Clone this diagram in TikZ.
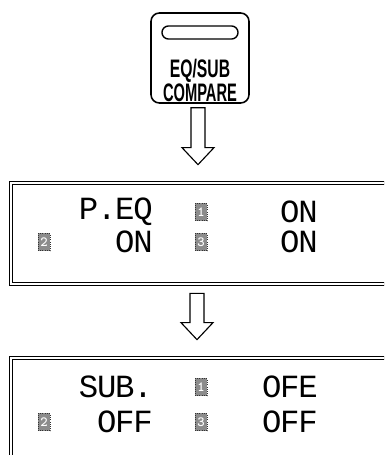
\documentclass[tikz,border=0pt]{standalone}
\usepackage{fontspec}
\setmainfont{Liberation Sans}
\newfontfamily\lcdfont[LetterSpace=-4]{Liberation Mono}
\usetikzlibrary{positioning,calc}
\tikzset{
  keycap/.style={draw, line width=1.1pt, rounded corners=6pt, minimum width=2.45cm, minimum height=2.25cm},
  slot/.style={draw, line width=1pt, rounded corners=0.16cm, minimum width=1.9cm, minimum height=0.325cm, inner sep=0pt},
  keytxt/.style={font=\bfseries\fontsize{18}{14}\selectfont, inner sep=0pt, align=center},
  panel/.style={draw, double, line width=0.5pt, double distance=1.3pt, minimum width=9.475cm},
  lcd/.style={font=\lcdfont\fontsize{23}{24}\selectfont, anchor=east, inner sep=0pt},
  chn/.style={draw=black!80, densely dotted, line width=0.6pt, fill=black!45, text=white, minimum width=0.3cm, minimum height=0.43cm, inner sep=0pt, font=\ttfamily\bfseries\fontsize{10}{10}\selectfont},
  hollow/.style={draw, line width=0.8pt, line join=miter, fill=white}}

\begin{document}
\begin{tikzpicture}[x=0.025cm, y=-0.025cm]
\useasboundingbox (0,0) rectangle (384,455);
\clip (0,0) rectangle (384,455);
% key
\node[keycap] (key) at (200,58) {};
\node[slot] (slt) at (200,32.5) {};
\node[keytxt] (klbl) at (200,80.5) {\scalebox{0.62}[1]{EQ/SUB}\\\scalebox{0.58}[1]{COMPARE}};
% panels
\node[panel, minimum height=2.525cm] (p1) at (200.5,233.5) {};
\node[panel, minimum height=2.8cm] (p2) at (200.5,414) {};
% arrows
\coordinate (a1t) at ($(key.south)+(-2,4)$);
\coordinate (a1b) at ($(p1.north)+(-2.5,-18)$);
\coordinate (a2t) at ($(p1.south)+(-3.5,9)$);
\coordinate (a2b) at ($(p2.north)+(-3.5,-18)$);
\foreach \t/\b in {a1t/a1b, a2t/a2b}
  \draw[hollow] ($(\t)+(-7,0)$) -- ($(\t)+(7,0)$) -- ($(\b)+(7,-17)$) -- ($(\b)+(16,-17)$)
    -- (\b) -- ($(\b)+(-16,-17)$) -- ($(\b)+(-7,-17)$) -- cycle;
% display 1
\node[lcd] (peq) at (153,212) {P.EQ};
\node[chn] (c1a) at (201,212) {1};
\node[lcd] (on1) at (318,212) {ON};
\node[chn] (c2a) at (44,242) {2};
\node[lcd] (on2) at (153,242) {ON};
\node[chn] (c3a) at (201,242) {3};
\node[lcd] (on3) at (318,242) {ON};
% display 2
\node[lcd] (sub) at (153,387) {SUB.};
\node[chn] (c1b) at (201,387) {1};
\node[lcd] (ofe) at (318,387) {OFE};
\node[chn] (c2b) at (44,422) {2};
\node[lcd] (off2) at (153,422) {OFF};
\node[chn] (c3b) at (201,422) {3};
\node[lcd] (off3) at (318,422) {OFF};
\end{tikzpicture}
\end{document}
